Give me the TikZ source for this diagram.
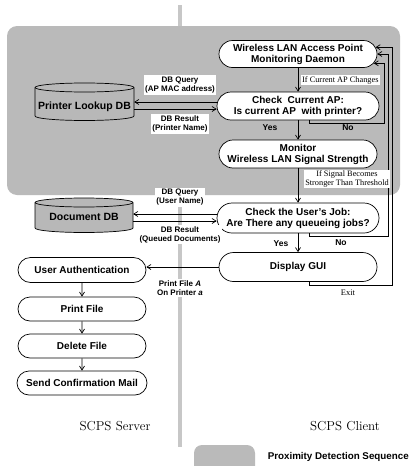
\documentclass[tikz,border=0pt]{standalone}
\usepackage{fontspec}
\setsansfont{Liberation Sans}
\newfontfamily\smallserif{Liberation Serif}
\usetikzlibrary{arrows.meta,shapes.misc,calc}
\begin{document}
\begin{tikzpicture}[x=1pt,y=-1pt,
  box/.style={draw, line width=0.7pt, rounded rectangle, fill=white,
    font=\sffamily\bfseries\fontsize{10}{11}\selectfont, align=center, inner sep=0pt},
  arr/.style={line width=0.7pt, -{Straight Barb[length=4pt,width=5pt]}},
  lbl/.style={font=\sffamily\bfseries\fontsize{8}{9}\selectfont, align=center, fill=white, inner sep=1.5pt},
  slbl/.style={font=\smallserif\fontsize{8.3}{8.5}\selectfont, fill=white, inner sep=1pt, align=center},
  yn/.style={font=\sffamily\bfseries\fontsize{8.5}{9}\selectfont},
  dbfill/.style={fill=black!28, draw, line width=0.7pt},
  shade/.style={fill=black!27},
  dbtext/.style={font=\sffamily\bfseries\fontsize{10.5}{11}\selectfont, inner sep=0pt}
]
\useasboundingbox (0,0) rectangle (411,466);
% divider
\draw[line width=3.5pt, black!22] (180,5) -- (180,447);
% proximity region
\fill[shade, rounded corners=10pt] (7,26) rectangle (400,195);

% Printer Lookup DB cylinder
\filldraw[dbfill] (35,87.5) -- (35,116) arc[start angle=180,end angle=360,x radius=49.5pt,y radius=4.5pt]
  -- (134,87.5) arc[start angle=0,end angle=180,x radius=49.5pt,y radius=4.5pt] -- cycle;
\draw[line width=0.7pt] (35,87.5) arc[start angle=180,end angle=360,x radius=49.5pt,y radius=4.5pt];
\node[dbtext, minimum width=99pt, minimum height=30pt] (plk) at (84.5,107) {Printer Lookup DB};

% Document DB cylinder
\filldraw[dbfill] (35,202.5) -- (35,228) arc[start angle=180,end angle=360,x radius=49pt,y radius=4.5pt]
  -- (133,202.5) arc[start angle=0,end angle=180,x radius=49pt,y radius=4.5pt] -- cycle;
\draw[line width=0.7pt] (35,202.5) arc[start angle=180,end angle=360,x radius=49pt,y radius=4.5pt];
\node[dbtext, minimum width=98pt, minimum height=26pt] (doc) at (84,217) {Document DB};

% client nodes
\node[box, minimum width=158pt, minimum height=27pt] (ap) at (298,54) {Wireless LAN Access Point\\Monitoring Daemon};
\node[box, minimum width=162pt, minimum height=28pt] (chk) at (298,106) {Check\ \ Current AP:\\Is current AP\ \ with printer?};
\node[box, minimum width=158pt, minimum height=28pt] (mon) at (298,154) {Monitor\\Wireless LAN Signal Strength};
\node[box, minimum width=162pt, minimum height=30pt] (job) at (298,218) {Check the User's Job:\\Are There any queueing jobs?};
\node[box, minimum width=158pt, minimum height=29pt] (gui) at (298,267) {Display GUI};

% server nodes
\node[box, minimum width=128pt, minimum height=25pt] (auth) at (82,270) {User Authentication};
\node[box, minimum width=128pt, minimum height=24pt] (pf) at (82,309) {Print File};
\node[box, minimum width=128pt, minimum height=24pt] (del) at (82,346) {Delete File};
\node[box, minimum width=130pt, minimum height=24pt] (mail) at (82,383) {Send Confirmation Mail};

% vertical flow arrows
\draw[arr] (ap.south) -- (chk.north);
\draw[arr] (chk.south) -- (mon.north);
\draw[arr] (mon.south) -- (job.north);
\draw[arr] (job.south) -- (gui.north);
\draw[arr] (auth) -- (pf);
\draw[arr] (pf) -- (del);
\draw[arr] (del) -- (mail);
\draw[arr] (gui.west) -- (gui.west -| auth.east);

% DB arrows
\coordinate (qa) at ([yshift=4pt]chk.west);
\coordinate (ra) at ([yshift=-3pt]chk.west);
\draw[arr] (qa) -- (qa -| plk.east);
\draw[arr] (ra -| plk.east) -- (ra);
\coordinate (qb) at ([yshift=4pt]job.west);
\coordinate (rb) at ([yshift=-3pt]job.west);
\draw[arr] (qb) -- (qb -| doc.east);
\draw[arr] (rb -| doc.east) -- (rb);

% return loops
\coordinate (r1) at (384,0);
\coordinate (r2) at (388,0);
\coordinate (r3) at (392,0);
\draw[arr] ([xshift=11pt]chk.south) -- ++(0,3) -| (r1 |- ap.-7) -- (ap.-7);
\draw[arr] ([xshift=11pt]job.south) -- ++(0,3) -| (r2 |- ap.east) -- (ap.east);
\draw[arr] ([xshift=11pt]gui.south) -- ++(0,3) -| (r3 |- ap.5) -- (ap.5);

% labels
\node[slbl, anchor=west] (lc) at (301,80) {If Current AP Changes};
\node[slbl] (ls) at (347,179) {If Signal Becomes\\Stronger Than Threshold};
\node[lbl] (q1l) at (180,85) {DB Query\\(AP MAC address)};
\node[lbl] (r1l) at (180,124) {DB Result\\(Printer Name)};
\node[lbl] (q2l) at (180,197.5) {DB Query\\(User Name)};
\node[lbl] (r2l) at (180,234.5) {DB Result\\(Queued Documents)};
\node[lbl] (pl) at (180,288) {Print File \textit{A}\\On Printer \textit{a}};
\node[yn] (y1) at (270,128) {Yes};
\node[yn] (n1) at (348,128) {No};
\node[yn] (y2) at (281,244) {Yes};
\node[yn] (n2) at (341,243) {No};
\node[font=\smallserif\fontsize{8.5}{9}\selectfont] (ex) at (348,293) {Exit};

% bottom captions
\node[font=\fontsize{13}{15}\selectfont] (srv) at (115,426) {SCPS Server};
\node[font=\fontsize{13}{15}\selectfont] (cli) at (345,426) {SCPS Client};
\begin{scope}
\clip (0,0) rectangle (411,466);
\fill[shade, rounded corners=8pt] (194,445) rectangle (255,480);
\end{scope}
\node[font=\sffamily\bfseries\fontsize{9.8}{11}\selectfont, anchor=east, inner sep=0pt] (leg) at (409,457) {Proximity Detection Sequence};
\end{tikzpicture}
\end{document}
